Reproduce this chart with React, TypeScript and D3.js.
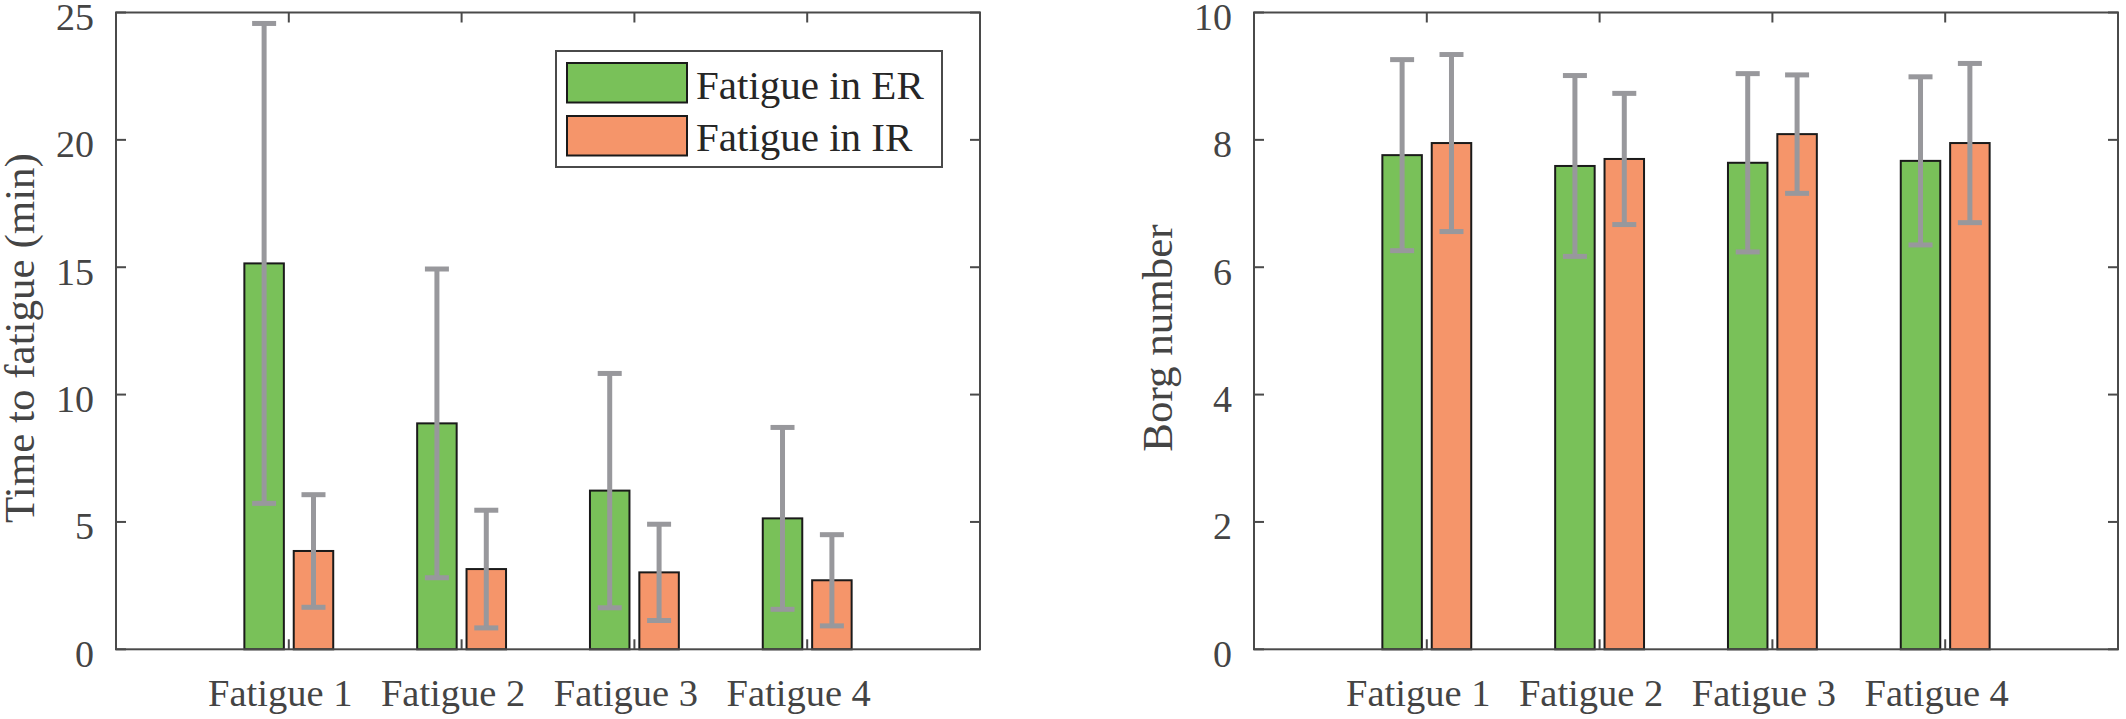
import React from 'react';
import * as d3 from 'd3';

// values
const categories = ['Fatigue 1', 'Fatigue 2', 'Fatigue 3', 'Fatigue 4'];

const timeER = [15.15, 8.87, 6.23, 5.14];
const timeERsd = [9.42, 6.06, 4.6, 3.57];
const timeIR = [3.86, 3.15, 3.02, 2.71];
const timeIRsd = [2.21, 2.31, 1.89, 1.79];

const borgER = [7.76, 7.59, 7.64, 7.67];
const borgERsd = [1.5, 1.42, 1.4, 1.32];
const borgIR = [7.95, 7.7, 8.09, 7.95];
const borgIRsd = [1.39, 1.03, 0.93, 1.25];

const timeTicks = [0, 5, 10, 15, 20, 25];
const borgTicks = [0, 2, 4, 6, 8, 10];

const seriesNames = ['Fatigue in ER', 'Fatigue in IR'];
const colors = ['#79C159', '#F5956A'];

const FONT = '"Liberation Serif", "Times New Roman", serif';
const AXIS = '#4a4a4a';
const ERR = '#98989c';

interface PanelProps {
  left: number;
  ylabel: string;
  ymax: number;
  ticks: number[];
  means: number[][];
  sds: number[][];
  legend?: boolean;
}

const Panel: React.FC<PanelProps> = ({ left, ylabel, ymax, ticks, means, sds, legend }) => {
  const top = 12.5;
  const bottom = 649.3;
  const width = 864;
  const x = d3.scaleLinear().domain([0, categories.length + 1]).range([left, left + width]);
  const y = d3.scaleLinear().domain([0, ymax]).range([bottom, top]);
  // matlab-style grouped bar geometry
  const groupWidth = 2 / 3.5;
  const barW = x(groupWidth / 2 * 0.8) - x(0);
  const offsets = [-groupWidth / 4, groupWidth / 4];
  const tickLen = 10;

  return (
    <g>
      {/* bars */}
      {means.map((series, s) =>
        series.map((v, i) => {
          const cx = x(i + 1 + offsets[s]);
          return (
            <rect
              key={`b${s}-${i}`}
              x={cx - barW / 2}
              y={y(v)}
              width={barW}
              height={y(0) - y(v)}
              fill={colors[s]}
              stroke="#1a1a1a"
              strokeWidth={2}
            />
          );
        })
      )}
      {/* error bars */}
      {means.map((series, s) =>
        series.map((v, i) => {
          const cx = x(i + 1 + offsets[s]);
          const hi = y(v + sds[s][i]);
          const lo = y(v - sds[s][i]);
          return (
            <g key={`e${s}-${i}`} stroke={ERR} strokeWidth={5}>
              <line x1={cx} x2={cx} y1={hi} y2={lo} />
              <line x1={cx - 12} x2={cx + 12} y1={hi} y2={hi} />
              <line x1={cx - 12} x2={cx + 12} y1={lo} y2={lo} />
            </g>
          );
        })
      )}
      {/* axes box */}
      <rect x={left} y={top} width={width} height={bottom - top} fill="none" stroke={AXIS} strokeWidth={2} />
      {ticks.map((t) => (
        <g key={`yt${t}`} stroke={AXIS} strokeWidth={2}>
          <line x1={left} x2={left + tickLen} y1={y(t)} y2={y(t)} />
          <line x1={left + width} x2={left + width - tickLen} y1={y(t)} y2={y(t)} />
        </g>
      ))}
      {categories.map((c, i) => (
        <g key={`xt${i}`} stroke={AXIS} strokeWidth={2}>
          <line x1={x(i + 1)} x2={x(i + 1)} y1={bottom} y2={bottom - tickLen} />
          <line x1={x(i + 1)} x2={x(i + 1)} y1={top} y2={top + tickLen} />
        </g>
      ))}
      {ticks.map((t) => (
        <text
          key={`yl${t}`}
          x={left - 22}
          y={y(t) + 17.5}
          textAnchor="end"
          fontFamily={FONT}
          fontSize={38}
          fill="#444"
        >
          {t}
        </text>
      ))}
      {categories.map((c, i) => (
        <text
          key={`xl${i}`}
          x={x(i + 1) - 8.5}
          y={706}
          textAnchor="middle"
          fontFamily={FONT}
          fontSize={38.5}
          fill="#444"
        >
          {c}
        </text>
      ))}
      <text
        transform={`translate(${left - 82},${338}) rotate(-90)`}
        textAnchor="middle"
        fontFamily={FONT}
        fontSize={43}
        fill="#444"
      >
        {ylabel}
      </text>
      {legend && (
        <g>
          <rect x={556} y={51} width={386} height={116} fill="#fff" stroke={AXIS} strokeWidth={2} />
          {seriesNames.map((n, s) => (
            <g key={n}>
              <rect x={567} y={63 + s * 53} width={120} height={39.5} fill={colors[s]} stroke="#1a1a1a" strokeWidth={2} />
              <text x={696} y={99 + s * 52} fontFamily={FONT} fontSize={41} fill="#262626">
                {n}
              </text>
            </g>
          ))}
        </g>
      )}
    </g>
  );
};

const App: React.FC = () => {
  return (
    <svg
      width={2126}
      height={719}
      style={{ position: 'absolute', left: 0, top: 0, background: '#fff' }}
    >
      <rect width={2126} height={719} fill="#fff" />
      <Panel
        left={116}
        ylabel="Time to fatigue (min)"
        ymax={25}
        ticks={timeTicks}
        means={[timeER, timeIR]}
        sds={[timeERsd, timeIRsd]}
        legend
      />
      <Panel
        left={1254}
        ylabel="Borg number"
        ymax={10}
        ticks={borgTicks}
        means={[borgER, borgIR]}
        sds={[borgERsd, borgIRsd]}
      />
    </svg>
  );
};

export default App;
